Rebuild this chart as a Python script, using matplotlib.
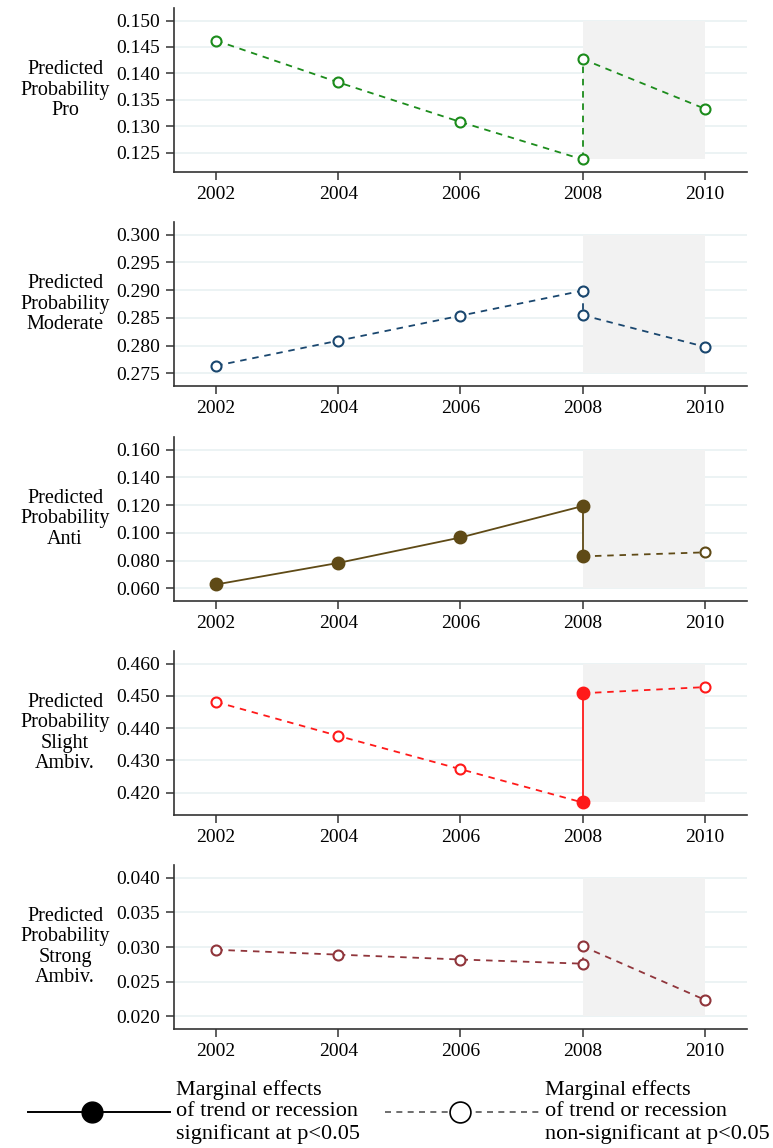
import matplotlib
matplotlib.use("Agg")
import matplotlib.pyplot as plt
from matplotlib.lines import Line2D

plt.rcParams['font.family'] = ['Liberation Serif', 'DejaVu Serif']

years_pre = [2002, 2004, 2006, 2008]
years_post = [2008, 2010]

labels = ["Pro", "Moderate", "Anti", "Slight\nAmbiv.", "Strong\nAmbiv."]
colors = ["#1c8c1c", "#1a476f", "#5f4a16", "#ff1a1a", "#90353b"]

pro_pre = [0.1462, 0.1383, 0.1308, 0.1237]
pro_post = [0.1427, 0.1333]
moderate_pre = [0.2764, 0.2809, 0.2854, 0.2899]
moderate_post = [0.2855, 0.2798]
anti_pre = [0.0629, 0.0784, 0.0967, 0.1193]
anti_post = [0.0831, 0.0860]
slight_pre = [0.4481, 0.4376, 0.4273, 0.4170]
slight_post = [0.4508, 0.4527]
strong_pre = [0.0296, 0.0289, 0.0282, 0.0276]
strong_post = [0.0301, 0.0224]

# significance of (trend before, recession jump, trend after)
sig_pro = (False, False, False)
sig_moderate = (False, False, False)
sig_anti = (True, True, False)
sig_slight = (False, True, False)
sig_strong = (False, False, False)

yticks_pro = [0.125, 0.130, 0.135, 0.140, 0.145, 0.150]
yticks_moderate = [0.275, 0.280, 0.285, 0.290, 0.295, 0.300]
yticks_anti = [0.060, 0.080, 0.100, 0.120, 0.140, 0.160]
yticks_slight = [0.420, 0.430, 0.440, 0.450, 0.460]
yticks_strong = [0.020, 0.025, 0.030, 0.035, 0.040]

xticks = [2002, 2004, 2006, 2008, 2010]

DASH = (3.6, 3.2)
AXCOL = "#333333"


def style(sig):
    return '-' if sig else (0, DASH)


def marker(ax, x, y, col, filled):
    ax.plot([x], [y], 'o', ms=8.5 if filled else 7.2, mew=1.5,
            mec=col, mfc=col if filled else 'white', zorder=4)


def draw_panel(ax, pre, post, sig, yticks, col, label, fig):
    pre_sig, jump_sig, post_sig = sig
    lo = min(min(yticks), min(pre + post))
    hi = max(yticks)
    pad = (hi - lo) * 0.09
    for t in yticks:
        ax.axhline(t, color="#eaf2f3", lw=1.3, zorder=0.5)
    ax.fill_between([2008, 2010], lo, hi, color="#f2f2f2", lw=0, zorder=1)

    ax.plot(years_pre, pre, color=col, lw=1.3, ls=style(pre_sig), zorder=2)
    ax.plot([2008, 2008], [pre[-1], post[0]], color=col, lw=1.3,
            ls=style(jump_sig), zorder=2)
    ax.plot(years_post, post, color=col, lw=1.3, ls=style(post_sig), zorder=2)

    for x, y in zip(years_pre[:-1], pre[:-1]):
        marker(ax, x, y, col, pre_sig)
    marker(ax, 2008, pre[-1], col, pre_sig or jump_sig)
    marker(ax, 2008, post[0], col, jump_sig or post_sig)
    marker(ax, 2010, post[1], col, post_sig)

    ax.set_xlim(2001.31, 2010.69)
    ax.set_ylim(lo - pad, hi + pad)
    ax.set_xticks(xticks)
    ax.set_yticks(yticks)
    ax.set_yticklabels(["%.3f" % t for t in yticks])
    for s in ['top', 'right']:
        ax.spines[s].set_visible(False)
    for s in ['left', 'bottom']:
        ax.spines[s].set_color(AXCOL)
        ax.spines[s].set_linewidth(1.2)
    ax.tick_params(colors=AXCOL, labelcolor='black', labelsize=14,
                   length=6, width=1.1, pad=4)
    ax.tick_params(axis='x', pad=4)

    bb = ax.get_position()
    fig.text(65 / 773, (bb.y0 + bb.y1) / 2, "Predicted\nProbability\n" + label,
             ha='center', va='center', fontsize=14.5, linespacing=1.1)


def draw_key(fig):
    W, H = 773.0, 1148.0
    y = 1 - 1112 / H
    fig.add_artist(Line2D([28 / W, 170 / W], [y, y], color='black', lw=1.4))
    fig.add_artist(Line2D([92 / W], [y], marker='o', ms=15, color='black'))
    fig.add_artist(Line2D([385 / W, 540 / W], [y, y], color='#555555', lw=1.2,
                          ls=(0, (3.6, 3.2))))
    fig.add_artist(Line2D([460 / W], [y], marker='o', ms=15, mfc='white',
                          mec='black', mew=1.2))
    fig.text(176 / W, y, "Marginal effects\nof trend or recession\nsignificant at p<0.05",
             ha='left', va='center', fontsize=16, linespacing=1.17)
    fig.text(545 / W, y, "Marginal effects\nof trend or recession\nnon-significant at p<0.05",
             ha='left', va='center', fontsize=16, linespacing=1.17)


def main():
    fig = plt.figure(figsize=(7.73, 11.48), dpi=100)
    panels = [
        (pro_pre, pro_post, sig_pro, yticks_pro),
        (moderate_pre, moderate_post, sig_moderate, yticks_moderate),
        (anti_pre, anti_post, sig_anti, yticks_anti),
        (slight_pre, slight_post, sig_slight, yticks_slight),
        (strong_pre, strong_post, sig_strong, yticks_strong),
    ]
    bottoms = [172, 386, 601, 815, 1029]
    for i, (pre, post, sig, yt) in enumerate(panels):
        ax = fig.add_axes([174 / 773, 1 - bottoms[i] / 1148, 573 / 773, 164 / 1148])
        draw_panel(ax, pre, post, sig, yt, colors[i], labels[i], fig)
    draw_key(fig)
    fig.savefig("out.png", dpi=100)


if __name__ == "__main__":
    main()
